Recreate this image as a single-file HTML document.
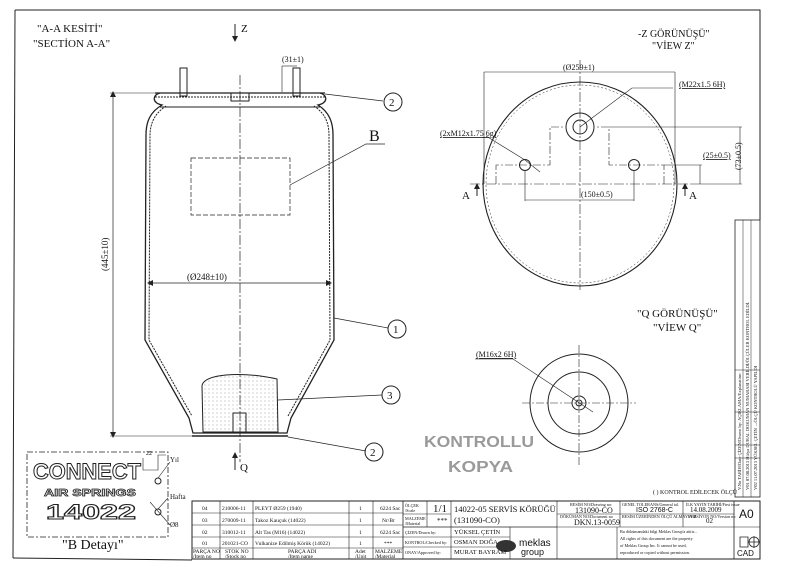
<!DOCTYPE html>
<html><head><meta charset="utf-8"><style>
html,body{margin:0;padding:0;background:#fff}
svg{display:block}
text{font-family:"Liberation Serif",serif;fill:#111}
.s{font-family:"Liberation Sans",sans-serif}
</style></head><body>
<svg width="800" height="565" viewBox="0 0 800 565" xmlns="http://www.w3.org/2000/svg">
<defs>
<pattern id="dots" width="4" height="4" patternUnits="userSpaceOnUse"><circle cx="1" cy="1" r="0.5" fill="#888"/></pattern>
</defs>
<g fill="none" stroke="#222" stroke-width="1">
<polyline points="15,10 760,10 760,220"/>
<line x1="15" y1="10" x2="13" y2="558"/>
<line x1="13" y1="558" x2="192" y2="560"/>
<line x1="155" y1="93" x2="325" y2="93" stroke-width="1.2"/>
<line x1="155" y1="97" x2="325" y2="97" stroke-dasharray="2,1"/>
<line x1="160" y1="107" x2="320" y2="107"/>
<path d="M160,93 C152,95 152,103 162,105 C150,112 146,122 146,135 L145,340 L189,418 L193,433 L287,433 L291,418 L334,340 L333,135 C333,122 329,112 318,105 C328,103 328,95 320,93" stroke-width="1.3"/>
<path d="M166,106 C154,114 150,124 150,136 L149,340 L192,416 M314,106 C326,114 329,124 329,136 L330,340 L288,416" stroke-dasharray="2,1"/>
<line x1="192" y1="436" x2="288" y2="436" stroke-width="1.5"/>
<rect x="180" y="68" width="7" height="28"/>
<rect x="293" y="68" width="7" height="28"/>
<rect x="231" y="93" width="18" height="8"/>
<path d="M203,432 L202,386 C203,374 240,371 277,379 L278,432 Z" fill="url(#dots)"/>
<rect x="233" y="413" width="13" height="20"/>
<line x1="240" y1="75" x2="240" y2="462" stroke-dasharray="10,2,2,2" stroke-width="0.7"/>
<line x1="113" y1="93" x2="113" y2="436" stroke-width="0.7"/>
<line x1="110" y1="93" x2="155" y2="93" stroke-width="0.6"/>
<line x1="110" y1="436" x2="192" y2="436" stroke-width="0.6"/>
<line x1="149" y1="283" x2="330" y2="283" stroke-width="0.7"/>
<line x1="282" y1="66" x2="297" y2="66" stroke-width="0.6"/>
<line x1="282" y1="66" x2="282" y2="92" stroke-width="0.6"/>
<rect x="191" y="158" width="99" height="57" stroke-dasharray="5,2" stroke-width="0.7"/>
<polyline points="290,185 366,144 385,144" stroke-width="0.7"/>
<line x1="325" y1="94" x2="383" y2="101" stroke-width="0.7"/>
<circle cx="393" cy="102" r="9"/>
<line x1="334" y1="318" x2="388" y2="328" stroke-width="0.7"/>
<circle cx="397" cy="329" r="9"/>
<line x1="278" y1="400" x2="382" y2="395" stroke-width="0.7"/>
<circle cx="391" cy="395" r="9"/>
<line x1="288" y1="437" x2="366" y2="451" stroke-width="0.7"/>
<circle cx="374" cy="452" r="9"/>
<line x1="235" y1="24" x2="235" y2="38"/>
<line x1="235" y1="455" x2="235" y2="470"/>
<ellipse cx="580" cy="184" rx="97" ry="102" stroke-width="1.1"/>
<ellipse cx="580" cy="184" rx="94" ry="99" stroke-dasharray="2,2" stroke-width="0.5"/>
<line x1="484" y1="72" x2="675" y2="72" stroke-width="0.6"/>
<line x1="484" y1="72" x2="484" y2="184" stroke-width="0.6"/>
<line x1="675" y1="72" x2="675" y2="184" stroke-width="0.6"/>
<line x1="580" y1="60" x2="580" y2="290" stroke-dasharray="10,2,2,2" stroke-width="0.6"/>
<line x1="470" y1="184" x2="690" y2="184" stroke-dasharray="10,2,2,2" stroke-width="0.6"/>
<circle cx="580" cy="127" r="14"/>
<circle cx="580" cy="127" r="7"/>
<circle cx="525" cy="165" r="5.5"/>
<circle cx="634" cy="165" r="5.5"/>
<polyline points="496,184 496,165 550,165 550,127 565,127" stroke-dasharray="8,2,2,2" stroke-width="0.6"/>
<polyline points="664,184 664,165 609,165 609,127 595,127" stroke-dasharray="8,2,2,2" stroke-width="0.6"/>
<line x1="609" y1="127" x2="742" y2="127" stroke-width="0.6"/>
<line x1="740" y1="127" x2="740" y2="184" stroke-width="0.6"/>
<line x1="664" y1="165" x2="702" y2="165" stroke-width="0.6"/>
<line x1="700" y1="165" x2="700" y2="184" stroke-width="0.6"/>
<line x1="690" y1="184" x2="742" y2="184" stroke-width="0.6"/>
<line x1="525" y1="170" x2="525" y2="201" stroke-width="0.6"/>
<line x1="634" y1="170" x2="634" y2="201" stroke-width="0.6"/>
<line x1="525" y1="200" x2="634" y2="200" stroke-width="0.6"/>
<polyline points="486,136 525,160 540,172" stroke-width="0.6"/>
<polyline points="580,127 632,88 673,88" stroke-width="0.6"/>
<line x1="477" y1="184" x2="477" y2="196"/>
<line x1="685" y1="184" x2="685" y2="196"/>
<circle cx="579" cy="403" r="49"/>
<circle cx="579" cy="403" r="31"/>
<circle cx="579" cy="403" r="7"/>
<circle cx="579" cy="403" r="3"/>
<line x1="579" y1="345" x2="579" y2="465" stroke-dasharray="8,2,2,2" stroke-width="0.6"/>
<line x1="522" y1="403" x2="636" y2="403" stroke-dasharray="8,2,2,2" stroke-width="0.6"/>
<polyline points="475,359 513,359 593,412" stroke-width="0.6"/>
<rect x="27" y="452" width="141" height="85" stroke-dasharray="6,2,2,2" stroke-width="0.8"/>
<circle cx="158" cy="481" r="3"/>
<circle cx="158" cy="512" r="3"/>
<polyline points="143,458 143,470 158,470 158,455 166,455" stroke-width="0.6"/>
<line x1="158" y1="478" x2="170" y2="462" stroke-width="0.6"/>
<line x1="150" y1="502" x2="170" y2="525" stroke-width="0.6"/>
<line x1="158" y1="509" x2="168" y2="498" stroke-width="0.6"/>
<rect x="735" y="220" width="25" height="277" stroke-width="0.8"/>
<line x1="743" y1="220" x2="743" y2="497" stroke-width="0.5"/>
<line x1="751" y1="220" x2="751" y2="497" stroke-width="0.5"/>
<line x1="735" y1="370" x2="760" y2="370" stroke-width="0.5"/>
<line x1="735" y1="412" x2="760" y2="412" stroke-width="0.5"/>
<line x1="735" y1="445" x2="760" y2="445" stroke-width="0.5"/>
<line x1="735" y1="458" x2="760" y2="458" stroke-width="0.5"/>
<rect x="192" y="501" width="568" height="58" stroke-width="1"/>
<line x1="192" y1="513" x2="403" y2="513" stroke-width="0.6"/>
<line x1="192" y1="525" x2="403" y2="525" stroke-width="0.6"/>
<line x1="192" y1="537" x2="403" y2="537" stroke-width="0.6"/>
<line x1="192" y1="548" x2="403" y2="548" stroke-width="0.6"/>
<line x1="220" y1="501" x2="220" y2="559" stroke-width="0.6"/>
<line x1="253" y1="501" x2="253" y2="559" stroke-width="0.6"/>
<line x1="349" y1="501" x2="349" y2="559" stroke-width="0.6"/>
<line x1="373" y1="501" x2="373" y2="559" stroke-width="0.6"/>
<line x1="403" y1="501" x2="403" y2="559" stroke-width="0.8"/>
<line x1="403" y1="514" x2="451" y2="514" stroke-width="0.6"/>
<line x1="403" y1="527" x2="557" y2="527" stroke-width="0.8"/>
<line x1="403" y1="537" x2="510" y2="537" stroke-width="0.6"/>
<line x1="403" y1="547" x2="510" y2="547" stroke-width="0.6"/>
<line x1="427" y1="501" x2="427" y2="527" stroke-width="0.6"/>
<line x1="451" y1="501" x2="451" y2="559" stroke-width="0.6"/>
<line x1="510" y1="527" x2="510" y2="559" stroke-width="0.6"/>
<line x1="557" y1="501" x2="557" y2="559" stroke-width="0.6"/>
<line x1="557" y1="514" x2="734" y2="514" stroke-width="0.6"/>
<line x1="557" y1="527" x2="760" y2="527" stroke-width="0.6"/>
<line x1="620" y1="501" x2="620" y2="527" stroke-width="0.6"/>
<line x1="683" y1="501" x2="683" y2="527" stroke-width="0.6"/>
<line x1="617" y1="527" x2="617" y2="559" stroke-width="0.6"/>
<line x1="734" y1="501" x2="734" y2="559" stroke-width="0.8"/>
<path d="M740,537 h8 v10 h-8 z M754,542 m-5,0 a5,5 0 1,0 10,0 a5,5 0 1,0 -10,0 M748,542 h12 M754,536 v12" stroke-width="0.8"/>
</g>
<g fill="#222">
<polygon points="232,36 238,36 235,42"/>
<polygon points="232,458 238,458 235,452"/>
<polygon points="110,97 116,97 113,91"/>
<polygon points="110,432 116,432 113,438"/>
<polygon points="153,280 153,286 147,283"/>
<polygon points="326,280 326,286 332,283"/>
<polygon points="474,189 480,189 477,183"/>
<polygon points="682,189 688,189 685,183"/>
<ellipse cx="506" cy="546" rx="10" ry="6" fill="#333"/>
</g>
<text x="37" y="32" font-size="11">"A-A KESİTİ"</text>
<text x="33" y="47" font-size="11">"SECTİON A-A"</text>
<text x="241" y="32" font-size="11">Z</text>
<text x="240" y="471" font-size="11">Q</text>
<text x="282" y="62" font-size="8">(31±1)</text>
<text x="122" y="285" font-size="9" transform="rotate(-90 108 285)">(445±10)</text>
<text x="187" y="280" font-size="9">(Ø248±10)</text>
<text x="369" y="141" font-size="16">B</text>
<text x="389" y="106" font-size="11">2</text>
<text x="393" y="333" font-size="11">1</text>
<text x="387" y="399" font-size="11">3</text>
<text x="370" y="456" font-size="11">2</text>
<text x="638" y="37" font-size="10">-Z GÖRÜNÜŞÜ"</text>
<text x="652" y="49" font-size="10">"VİEW Z"</text>
<text x="563" y="70" font-size="8">(Ø259±1)</text>
<text x="679" y="87" font-size="8" text-decoration="underline">(M22x1.5 6H)</text>
<text x="440" y="136" font-size="8" text-decoration="underline">(2xM12x1.75 6g)</text>
<text x="703" y="158" font-size="8" text-decoration="underline">(25±0.5)</text>
<text x="741" y="170" font-size="8" transform="rotate(-90 741 170)">(73±0.5)</text>
<text x="581" y="197" font-size="8">(150±0.5)</text>
<text x="462" y="199" font-size="11">A</text>
<text x="689" y="199" font-size="11">A</text>
<text x="637" y="317" font-size="11">"Q GÖRÜNÜŞÜ"</text>
<text x="653" y="331" font-size="11">"VİEW Q"</text>
<text x="476" y="357" font-size="8" text-decoration="underline">(M16x2 6H)</text>
<text x="424" y="447" font-size="16" font-weight="bold" class="s" style="fill:#9a9a9a" textLength="110" lengthAdjust="spacingAndGlyphs">KONTROLLU</text>
<text x="448" y="472" font-size="16" font-weight="bold" class="s" style="fill:#9a9a9a" textLength="65" lengthAdjust="spacingAndGlyphs">KOPYA</text>
<text x="653" y="494" font-size="6">( ) KONTROL EDİLECEK ÖLÇÜ</text>
<text x="33" y="479" font-size="22" font-weight="bold" class="s" style="fill:#fff;stroke:#222;stroke-width:1" textLength="108" lengthAdjust="spacingAndGlyphs">CONNECT</text>
<text x="44" y="496" font-size="10" font-weight="bold" class="s" style="fill:#fff;stroke:#222;stroke-width:0.7" textLength="92" lengthAdjust="spacingAndGlyphs">AIR SPRINGS</text>
<text x="46" y="519" font-size="21" font-weight="bold" class="s" style="fill:#fff;stroke:#222;stroke-width:1" textLength="90" lengthAdjust="spacingAndGlyphs">14022</text>
<text x="170" y="462" font-size="7">Yıl</text>
<text x="170" y="499" font-size="7">Hafta</text>
<text x="170" y="527" font-size="7">Ø8</text>
<text x="146" y="455" font-size="6">22</text>
<text x="62" y="549" font-size="14">"B  Detayı"</text>
<g font-size="5.5">
<text x="202" y="510">04</text><text x="222" y="510">210006-11</text><text x="255" y="510">PLEYT Ø259 (1940)</text><text x="359" y="510">1</text><text x="380" y="510">6224 Sac</text>
<text x="202" y="522">03</text><text x="222" y="522">270009-11</text><text x="255" y="522">Takoz Kauçuk (14022)</text><text x="359" y="522">1</text><text x="382" y="522">Nr/Br</text>
<text x="202" y="534">02</text><text x="222" y="534">310012-11</text><text x="255" y="534">Alt Tas (M16) (14022)</text><text x="359" y="534">1</text><text x="380" y="534">6224 Sac</text>
<text x="202" y="545">01</text><text x="222" y="545">201021-CO</text><text x="255" y="545">Vulkanize Edilmiş Körük (14022)</text><text x="359" y="545">1</text><text x="384" y="545">***</text>
<text x="193" y="553">PARÇA NO</text><text x="193" y="558">/Item no</text>
<text x="225" y="553">STOK NO</text><text x="225" y="558">/Stock no</text>
<text x="288" y="553">PARÇA ADI</text><text x="288" y="558">/Item name</text>
<text x="355" y="553">Adet</text><text x="355" y="558">/Unit</text>
<text x="375" y="553">MALZEME</text><text x="375" y="558">/Material</text>
</g>
<g font-size="4.2">
<text x="405" y="507">ÖLÇEK</text><text x="405" y="512">/Scale</text>
<text x="405" y="520">MALZEME</text><text x="405" y="525">/Material</text>
<text x="405" y="534">ÇİZEN/Drawn by:</text><text x="405" y="544">KONTROL/Checked by:</text><text x="405" y="554">ONAY/Approved by:</text>
<text x="570" y="506">RESİM NO/Drawing no:</text>
<text x="622" y="506">GENEL TOLERANS/General tol.</text>
<text x="686" y="506">İLK YAYIN TARİHİ/First issue</text>
<text x="560" y="518">DÖKÜMAN NO/Document no</text>
<text x="622" y="518">RESİM ÜZERİNDEN ÖLÇÜ ALMAYINIZ</text>
<text x="688" y="518">VERSİYON NO/Version no</text>
<text x="620" y="533">Bu dökümandaki bilgi Meklas Group'a aittir...</text>
<text x="620" y="540">All rights of this document are the property</text>
<text x="620" y="547">of Meklas Group Inc. It cannot be used,</text>
<text x="620" y="554">reproduced or copied without permission.</text>
</g>
<text x="454" y="534" font-size="6.5">YÜKSEL ÇETİN</text><text x="454" y="544" font-size="6.5">OSMAN DOĞA</text><text x="454" y="554" font-size="6.5">MURAT BAYRAM</text>
<text x="437" y="523" font-size="7">***</text>
<text x="433" y="512" font-size="11">1/1</text>
<text x="454" y="512" font-size="8.5">14022-05 SERVİS KÖRÜĞÜ</text>
<text x="454" y="523" font-size="8.5">(131090-CO)</text>
<text x="575" y="513" font-size="8">131090-CO</text>
<text x="574" y="525" font-size="8">DKN.13-0059</text>
<text x="636" y="512" font-size="7" class="s">ISO 2768-C</text>
<text x="690" y="512" font-size="7">14.08.2009</text>
<text x="706" y="523" font-size="7">02</text>
<text x="739" y="518" font-size="12" class="s">A0</text>
<text x="737" y="556" font-size="8" class="s">CAD</text>
<text x="519" y="546" font-size="10" class="s" fill="#333">meklas</text>
<text x="521" y="555" font-size="9" class="s" fill="#333">group</text>
<g font-size="4.5" class="s">
<text transform="translate(741,490) rotate(-90)">V.No TARİH/Date ÇİZEN/Drawn by: AÇIKLAMA/Explanation:</text>
<text transform="translate(749,490) rotate(-90)">V01 07.08.2013  Hülya DURAL  DOKUMAN NUMARASI VERİLDİ/ÖLÇÜLER KONTROL EDİLDİ.</text>
<text transform="translate(757,490) rotate(-90)">V02 11.07.2013  YÜKSEL ÇETİN  →ÖLÇÜ KONTROLÜ YAPILDI</text>
</g>
</svg>
</body></html>
